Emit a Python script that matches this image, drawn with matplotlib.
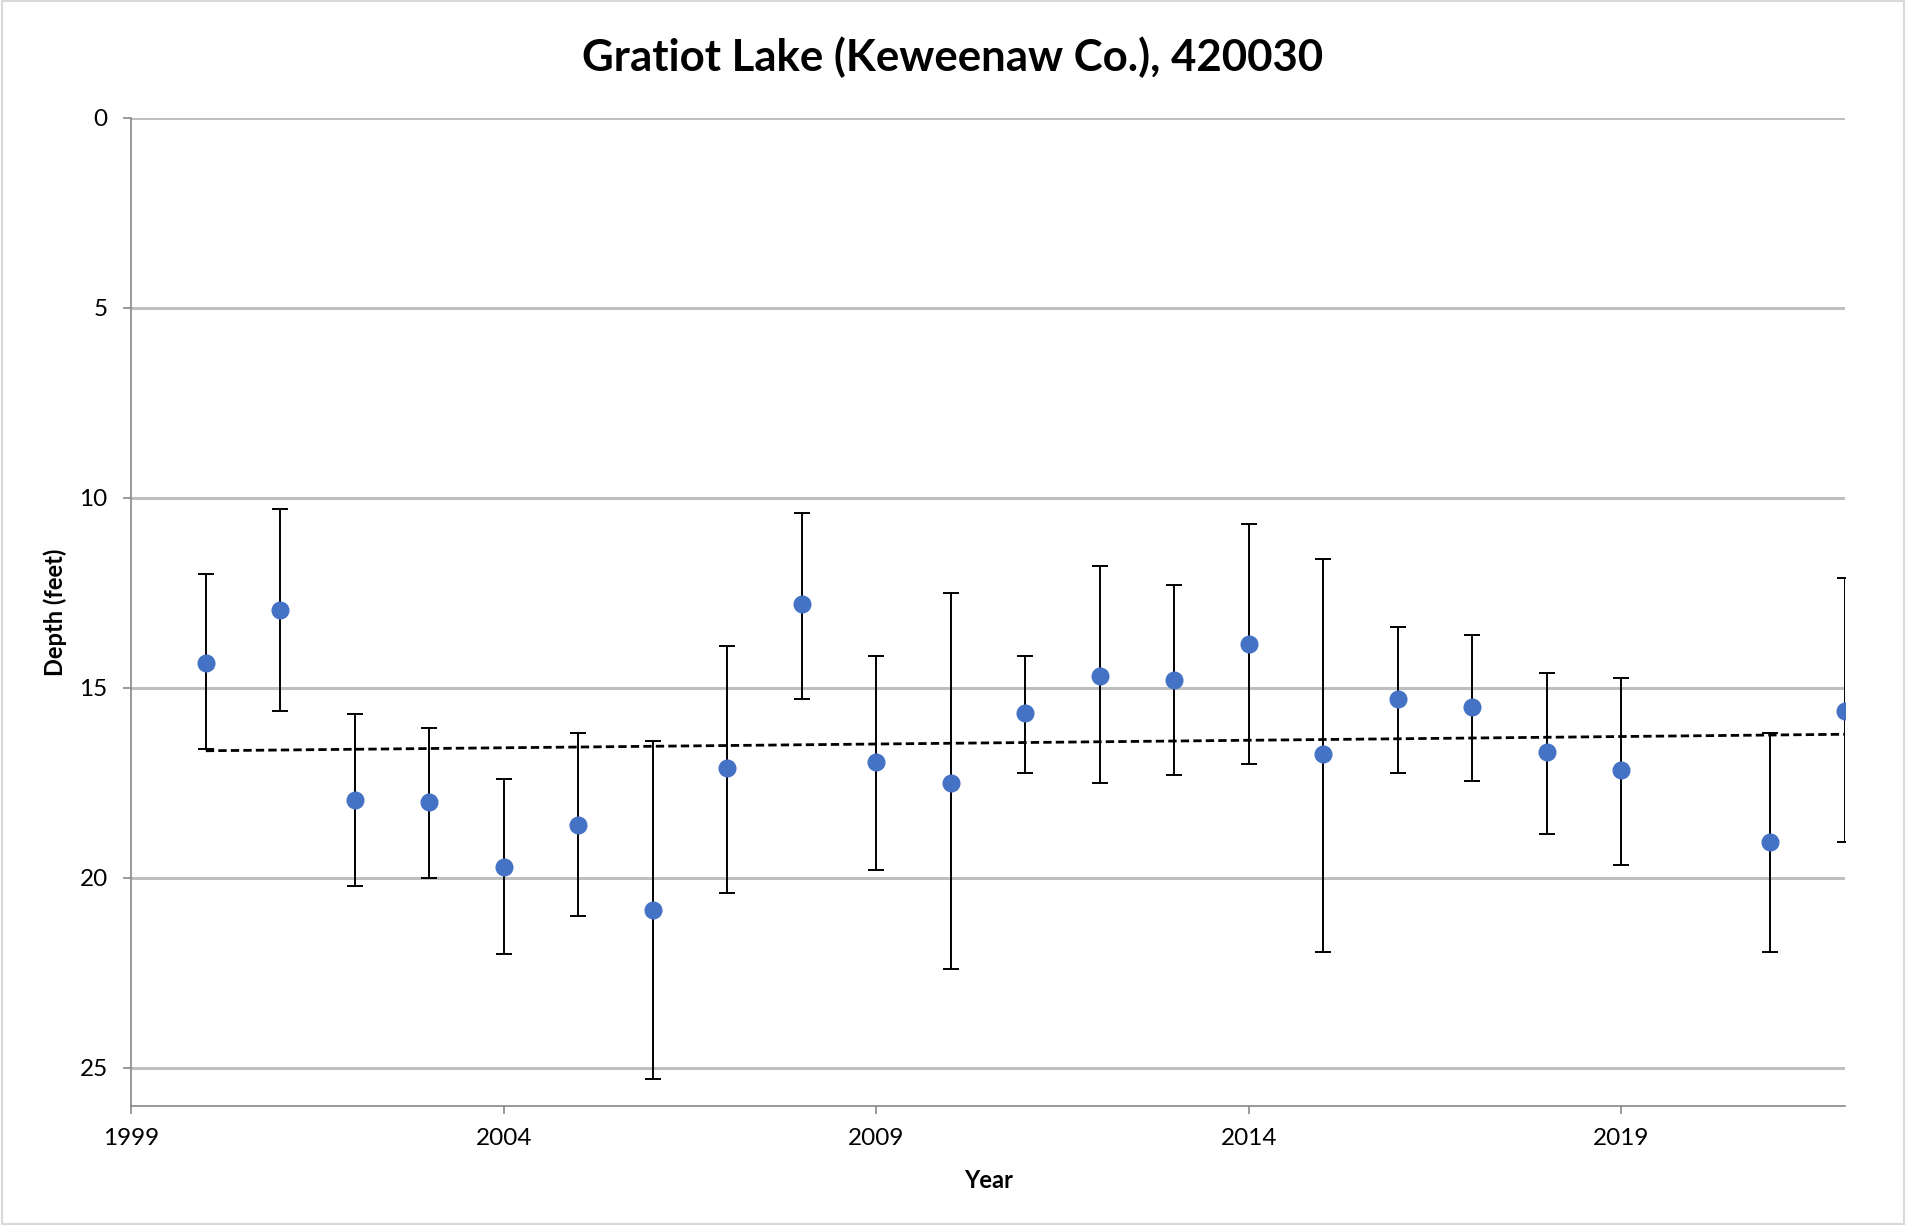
import matplotlib
matplotlib.use("Agg")
import matplotlib.pyplot as plt
import numpy as np

years = [2000, 2001, 2002, 2003, 2004, 2005, 2006, 2007, 2008, 2009, 2010,
         2011, 2012, 2013, 2014, 2015, 2016, 2017, 2018, 2019, 2021, 2022]
depth = [14.35, 12.95, 17.95, 18.0, 19.7, 18.6, 20.85, 17.1, 12.8, 16.95, 17.5,
         15.65, 14.7, 14.8, 13.85, 16.75, 15.3, 15.5, 16.7, 17.15, 19.05, 15.6]
low = [12.0, 10.3, 15.7, 16.05, 17.4, 16.2, 16.4, 13.9, 10.4, 14.15, 12.5,
       14.15, 11.8, 12.3, 10.7, 11.6, 13.4, 13.6, 14.6, 14.75, 16.2, 12.1]
high = [16.6, 15.6, 20.2, 20.0, 22.0, 21.0, 25.3, 20.4, 15.3, 19.8, 22.4,
        17.25, 17.5, 17.3, 17.0, 21.95, 17.25, 17.45, 18.85, 19.65, 21.95, 19.05]

title = "Gratiot Lake (Keweenaw Co.), 420030"
xlabel = "Year"
ylabel = "Depth (feet)"
xticks = [1999, 2004, 2009, 2014, 2019]
yticks = [0, 5, 10, 15, 20, 25]

plt.rcParams['font.family'] = ['Lato', 'DejaVu Sans']

fig = plt.figure(figsize=(19.06, 12.25), dpi=100)
ax = fig.add_axes([0.0689, 0.0972, 0.968 - 0.0689, 0.9038 - 0.0972])

y = np.array(depth)
yerr = np.vstack([y - np.array(low), np.array(high) - y])

for v in yticks:
    ax.axhline(v, color='#BFBFBF', lw=2.2, zorder=0)

ax.errorbar(years, depth, yerr=yerr, fmt='none', ecolor='black', elinewidth=1.4,
            capsize=6, capthick=1.4, zorder=2)
ax.plot(years, depth, 'o', color='#4472C4', markersize=12, zorder=3)

# linear trendline
coef = np.polyfit(years, depth, 1)
tx = np.array([years[0], years[-1]])
ax.plot(tx, np.polyval(coef, tx), ls=(0, (3, 1.5)), color='black', lw=2, zorder=2.5)

ax.set_xlim(1999, 2022)
ax.set_ylim(26, 0)
ax.set_xticks(xticks)
ax.set_yticks(yticks)
ax.tick_params(axis='both', labelsize=17.5, colors='#888888', labelcolor='black', length=6, width=1.2)
ax.tick_params(axis='y', pad=11)
ax.tick_params(axis='x', pad=10)

for s in ['top', 'right']:
    ax.spines[s].set_visible(False)
for s in ['left', 'bottom']:
    ax.spines[s].set_color('#888888')
    ax.spines[s].set_linewidth(1.2)

fig.text(0.5, 0.953, title, fontsize=31.5, fontweight='bold', ha='center', va='center')
ax.set_xlabel(xlabel, fontsize=17, fontweight='bold', labelpad=14)
ax.set_ylabel(ylabel, fontsize=17, fontweight='bold', labelpad=9)

fig.patches.append(plt.Rectangle((0.001, 0.001), 0.998, 0.998, transform=fig.transFigure,
                                 fill=False, edgecolor='#D9D9D9', lw=1.5))

fig.savefig("out.png", dpi=100)
